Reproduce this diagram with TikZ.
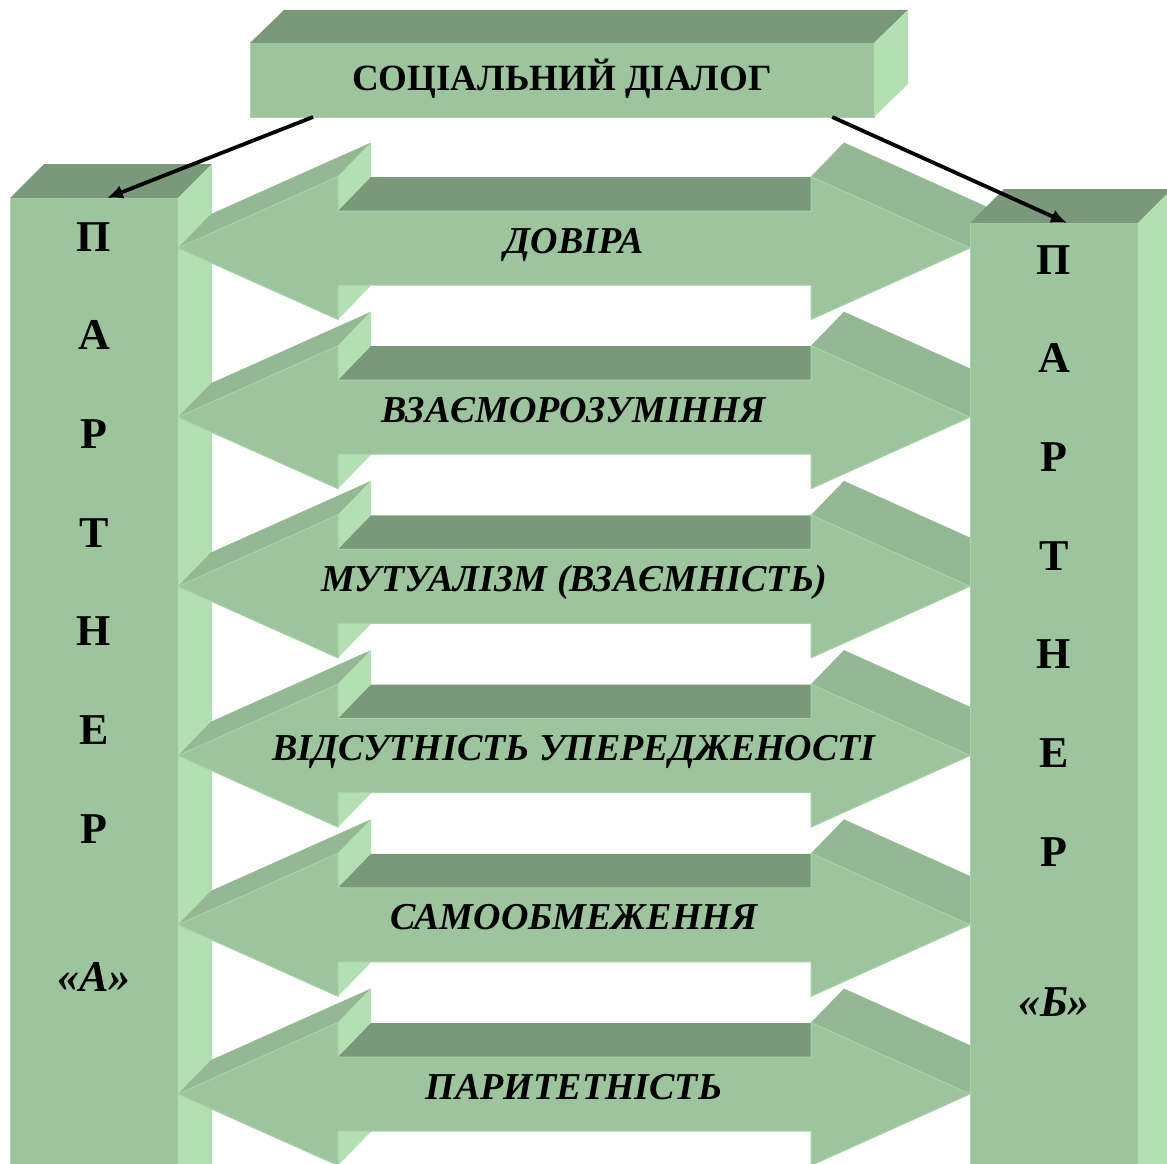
\documentclass[tikz,border=0pt]{standalone}
\usepackage{fontspec}
\setmainfont{Liberation Serif}
\usepackage{tikz}
\usetikzlibrary{%
arrows.meta,%
calc,%
positioning}

\definecolor{facegreen}{RGB}{157,197,157}
\definecolor{edgegreen}{RGB}{170,210,170}
\definecolor{topgreen}{RGB}{122,153,122}
\definecolor{sidegreen}{RGB}{179,224,179}
\definecolor{slantgreen}{RGB}{147,184,147}

\begin{document}
\begin{tikzpicture}[x=1pt,y=-1pt,
    front/.style={fill=facegreen,draw=edgegreen,line width=1pt,inner sep=0pt,outer sep=0pt},
    topface/.style={fill=topgreen},
    sideface/.style={fill=sidegreen},
    slantface/.style={fill=slantgreen},
    letter/.style={font=\fontsize{44}{44}\selectfont\bfseries,anchor=base,inner sep=0pt},
    arrowtext/.style={font=\fontsize{38}{38}\selectfont\bfseries\itshape,anchor=base,inner sep=0pt},
    titletext/.style={font=\fontsize{37}{37}\selectfont\bfseries,anchor=base,inner sep=0pt},
    link/.style={line width=3.8pt,-{Latex[length=16pt,width=14pt]}}]
\useasboundingbox (0,0) rectangle (1167,1164);
\clip (0,0) rectangle (1167,1164);

% partner A
\node[front,minimum width=168,minimum height=1002] (partA) at (94,699) {};
\fill[topface] (partA.north west) -- ++(34,-34) -- ++(168,0) -- (partA.north east) -- cycle;
\fill[sideface] (partA.north east) -- ++(34,-34) -- ++(0,1100) -- (partA.south east) -- cycle;

% double arrows
\foreach \t [count=\i from 0] in {{ДОВІРА},{ВЗАЄМОРОЗУМІННЯ},{МУТУАЛІЗМ (ВЗАЄМНІСТЬ)},
    {ВІДСУТНІСТЬ УПЕРЕДЖЕНОСТІ},{САМООБМЕЖЕННЯ},{ПАРИТЕТНІСТЬ}}{
  \pgfmathsetmacro\c{248+169.2*\i}
  \fill[slantface] (178,\c) -- (338,\c-71.5) -- (371,\c-105.5) -- (211,\c-34) -- cycle;
  \fill[sideface] (338,\c-71.5) -- (371,\c-105.5) -- (371,\c+37.5) -- (338,\c+71.5) -- cycle;
  \fill[topface] (338,\c-37) -- (371,\c-71) -- (811,\c-71) -- (811,\c-37) -- cycle;
  \fill[slantface] (811,\c-71.5) -- (844,\c-105.5) -- (1003,\c-34) -- (970,\c) -- cycle;
  \draw[front] (178,\c) -- (338,\c-71.5) -- (338,\c-37) -- (811,\c-37) -- (811,\c-71.5)
    -- (970,\c) -- (811,\c+71.5) -- (811,\c+37) -- (338,\c+37) -- (338,\c+71.5) -- cycle;
  \node[arrowtext] (txt\i) at (574,\c+5) {\t};
}

% partner B
\node[front,minimum width=168,minimum height=977] (partB) at (1054,711.5) {};
\fill[topface] (partB.north west) -- ++(34,-34) -- ++(168,0) -- (partB.north east) -- cycle;
\fill[sideface] (partB.north east) -- ++(34,-34) -- ++(0,1100) -- (partB.south east) -- cycle;

% letters
\foreach \l [count=\i from 0] in {П,А,Р,Т,Н,Е,Р}{
  \node[letter] (la\i) at (94,251+98.7*\i) {\l};
  \node[letter] (lb\i) at (1054,274+98.7*\i) {\l};
}
\node[letter,font=\fontsize{44}{44}\selectfont\bfseries\itshape] (laq) at (94,991) {«А»};
\node[letter,font=\fontsize{44}{44}\selectfont\bfseries\itshape] (lbq) at (1054,1016) {«Б»};

% social dialogue
\node[front,minimum width=624,minimum height=74] (dialog) at (562,80) {};
\fill[topface] (dialog.north west) -- ++(34,-33) -- ++(624,0) -- (dialog.north east) -- cycle;
\fill[sideface] (dialog.north east) -- ++(34,-33) -- ++(0,74) -- (dialog.south east) -- cycle;
\node[titletext] (dlgtext) at (562,91) {СОЦІАЛЬНИЙ ДІАЛОГ};

\coordinate (ta) at ($(partA.north)+(13,0)$);
\coordinate (tb) at ($(partB.north)+(13,0)$);
\draw[link] ($(dialog.south west)!0.101!(dialog.south east)$) -- (ta);
\draw[link] ($(dialog.south west)!0.933!(dialog.south east)$) -- (tb);
\end{tikzpicture}
\end{document}
